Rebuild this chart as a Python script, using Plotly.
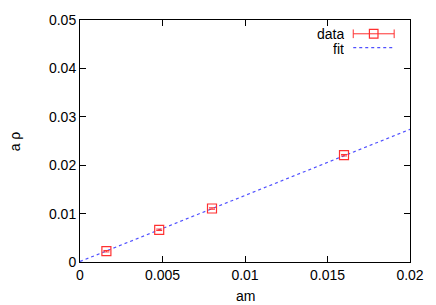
import plotly.graph_objects as go

# data
am = [0.0016, 0.0048, 0.0080, 0.0160]
a_rho = [0.00223, 0.00665, 0.01105, 0.02207]
a_rho_err = [0.00015, 0.00015, 0.00015, 0.00015]

fit_x = [0.0, 0.02]
fit_y = [0.0001, 0.0274]

xticks = [0, 0.005, 0.01, 0.015, 0.02]
xtick_labels = ["0", "0.005", "0.01", "0.015", "0.02"]
yticks = [0, 0.01, 0.02, 0.03, 0.04, 0.05]
ytick_labels = ["0", "0.01", "0.02", "0.03", "0.04", "0.05"]

FONT = "Liberation Sans, Arial, sans-serif"
RED = "#ff3030"
BLUE = "#5050ff"

fig = go.Figure()
fig.add_trace(go.Scatter(
    x=fit_x, y=fit_y, mode="lines",
    line=dict(color=BLUE, width=1.2, dash="dot"),
    showlegend=False, hoverinfo="skip"))
fig.add_trace(go.Scatter(
    x=am, y=a_rho, mode="markers",
    marker=dict(symbol="square-open", size=9, color=RED, line=dict(width=1.2, color=RED)),
    error_y=dict(type="data", array=a_rho_err, color=RED, thickness=1, width=3),
    showlegend=False))

# manual gnuplot-style legend (text left, sample right)
ann = []
ann.append(dict(xref="paper", yref="paper", x=0.803, y=0.945, text="data", showarrow=False,
                xanchor="right", yanchor="middle", height=13, borderpad=0,
                font=dict(family=FONT, size=14, color="black")))
ann.append(dict(xref="paper", yref="paper", x=0.803, y=0.884, text="fit", showarrow=False,
                xanchor="right", yanchor="middle", height=13, borderpad=0,
                font=dict(family=FONT, size=14, color="black")))
ann.append(dict(xref="paper", yref="paper", x=-0.196, y=0.5, text="a ρ", showarrow=False, textangle=-90,
                xanchor="center", yanchor="middle", font=dict(family=FONT, size=14, color="black")))
ann.append(dict(xref="paper", yref="paper", x=0.5, y=-0.142, text="am", showarrow=False,
                xanchor="center", yanchor="middle", font=dict(family=FONT, size=14, color="black")))

shapes = []
ly1 = 0.943
shapes.append(dict(type="line", xref="paper", yref="paper", x0=0.828, x1=0.952, y0=ly1, y1=ly1,
                   line=dict(color=RED, width=1)))
shapes.append(dict(type="line", xref="paper", yref="paper", x0=0.828, x1=0.828, y0=ly1 - 0.018, y1=ly1 + 0.018,
                   line=dict(color=RED, width=1)))
shapes.append(dict(type="line", xref="paper", yref="paper", x0=0.952, x1=0.952, y0=ly1 - 0.018, y1=ly1 + 0.018,
                   line=dict(color=RED, width=1)))
shapes.append(dict(type="rect", xref="paper", yref="paper", x0=0.877, x1=0.903, y0=ly1 - 0.018, y1=ly1 + 0.018,
                   line=dict(color=RED, width=1.2)))
ly2 = 0.886
shapes.append(dict(type="line", xref="paper", yref="paper", x0=0.828, x1=0.952, y0=ly2, y1=ly2,
                   line=dict(color=BLUE, width=1.2, dash="dot")))

fig.update_layout(
    width=436, height=305,
    margin=dict(l=80, r=25, t=16, b=43),
    paper_bgcolor="white", plot_bgcolor="white",
    font=dict(family=FONT, size=14, color="black"),
    annotations=ann, shapes=shapes,
    xaxis=dict(range=[0, 0.02], tickvals=xticks, ticktext=xtick_labels,
               ticks="inside", ticklen=6, tickcolor="black", showline=True, linecolor="black",
               linewidth=1, mirror="ticks", showgrid=False, zeroline=False),
    yaxis=dict(range=[0, 0.05], tickvals=yticks, ticktext=ytick_labels,
               ticks="inside", ticklen=6, tickcolor="black", showline=True, linecolor="black",
               linewidth=1, mirror="ticks", showgrid=False, zeroline=False),
)

fig.write_html("out.html", config={"displayModeBar": False},
               post_script="document.body.style.margin='0';document.body.style.overflow='hidden';")
